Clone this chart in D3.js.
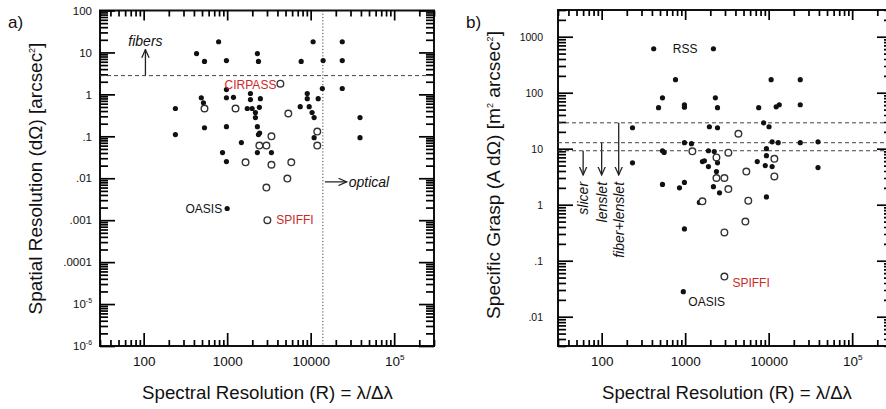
<!DOCTYPE html>
<html><head><meta charset="utf-8">
<script src="https://cdn.jsdelivr.net/npm/d3@7"></script>
<style>body{margin:0;background:#fff}svg{display:block;font-family:"Liberation Sans",Arial,sans-serif}</style>
</head><body>
<script>
// ---------- DATA ----------
const leftFilled = [[240,0.46],[240,0.11],[430,9.4],[535,6.1],[790,18],[980,6.4],[2300,9.4],[2370,6.1],[10700,18],[23900,18],[7700,6.1],[14100,6.4],[23900,6.4],[23900,1.38],[13800,1.38],[12300,0.79],[39000,0.28],[39000,0.093],[980,1.3],[980,0.83],[1190,0.85],[490,0.83],[520,0.63],[1740,0.46],[1900,1.05],[1900,0.75],[1990,0.46],[2180,0.37],[2180,0.28],[2500,0.79],[2430,0.49],[535,0.16],[980,0.17],[2300,0.17],[2370,0.11],[2450,0.12],[1480,0.071],[880,0.041],[980,0.025],[2300,0.041],[3390,0.041],[7500,0.51],[9100,1.05],[9100,0.79],[9600,0.51],[10400,0.37],[11000,0.28],[11000,0.093],[1000,0.0019]];
const leftOpen = [[535,0.46],[1260,0.46],[4340,1.8],[5400,0.35],[3390,0.10],[2430,0.06],[2950,0.06],[1660,0.024],[3390,0.021],[5860,0.024],[5260,0.0098],[2950,0.006],[12000,0.13],[12000,0.06],[3030,0.001]];
const rightFilled = [[420,610],[2180,610],[766,171],[535,81],[480,54],[980,61],[980,55],[2300,81],[2440,54],[10700,171],[23900,171],[7600,54],[12300,56],[13400,61],[23900,61],[234,23.7],[234,5.6],[535,9.2],[560,8.6],[535,2.3],[855,2.0],[980,2.5],[980,0.37],[1950,24.7],[2440,23.7],[980,12.8],[1190,12.3],[1900,9.2],[2230,8.9],[1610,5.9],[1900,4.8],[2440,5.6],[2180,2.1],[2580,1.63],[1480,1.1],[8700,29],[10100,24.7],[9400,10],[9400,7.5],[7300,5.9],[9100,5.0],[11000,4.8],[11000,13.3],[13000,12.8],[23900,12.8],[39000,13.3],[39000,4.6],[9400,1.38],[950,0.028],[2370,3.9],[1700,6.1]];
const rightOpen = [[1220,9.0],[4340,18.5],[3290,8.5],[2370,7.0],[11700,6.6],[11700,3.2],[5400,3.9],[2370,3.0],[2950,3.0],[3290,1.9],[5700,1.18],[1610,1.15],[2950,0.32],[5260,0.5],[2950,0.052]];

const xTickValues = [100,1000,10000,100000];
const xTickLabels = ["100","1000","10000","10^5"];
const leftYTickValues = [1e-6,1e-5,1e-4,1e-3,1e-2,1e-1,1,10,100];
const leftYTickLabels = ["10^-6","10^-5",".0001",".001",".01",".1","1","10","100"];
const rightYTickValues = [0.01,0.1,1,10,100,1000];
const rightYTickLabels = [".01",".1","1","10","100","1000"];

const leftLabels = [["OASIS",1000,0.0019],["SPIFFI",3030,0.001],["CIRPASS",4340,1.8]];
const rightLabels = [["RSS",2180,610],["SPIFFI",2950,0.052],["OASIS",950,0.028]];

const fibersLimit = 2.8;      // arcsec^2
const opticalLimit = 14000;   // R
const graspLimits = [29, 12.8, 9.2];   // fiber+lenslet, lenslet, slicer
const graspNames = ["fiber+lenslet","lenslet","slicer"];
const graspArrowR = [160, 100, 60];
const graspArrowEnd = 3.4;

// ---------- STYLE / LAYOUT ----------
const W = 886, H = 409;
const svg = d3.select("body").append("svg").attr("width", W).attr("height", H);
svg.append("rect").attr("width", W).attr("height", H).attr("fill", "#fff");
const defs = svg.append("defs");
defs.append("marker").attr("id","arr").attr("viewBox","0 0 10 10").attr("refX",9).attr("refY",5)
  .attr("markerWidth",7).attr("markerHeight",7).attr("orient","auto-start-reverse")
  .append("path").attr("d","M0,1 L9,5 L0,9").attr("fill","none").attr("stroke","#222").attr("stroke-width",1.4);

const RED = "#cc2a2a";
const labelStyle = {
  left: {OASIS:{dx:-5,dy:0,anchor:"end",color:"#111"}, SPIFFI:{dx:9,dy:0,anchor:"start",color:RED}, CIRPASS:{dx:-4,dy:1,anchor:"end",color:RED}},
  right:{RSS:{dx:-16,dy:0,anchor:"end",color:"#111"}, SPIFFI:{dx:8,dy:6,anchor:"start",color:RED}, OASIS:{dx:5,dy:10,anchor:"start",color:"#111"}}
};

function minorTicks(domain){
  const out=[]; const k0=Math.floor(Math.log10(domain[0])), k1=Math.ceil(Math.log10(domain[1]));
  for(let k=k0;k<=k1;k++) for(let m=2;m<=9;m++){const v=m*Math.pow(10,k); if(v>=domain[0]*0.999&&v<=domain[1]*1.001) out.push(v);}
  return out;
}
function setLabel(sel, lab, fs){
  sel.text(null);
  if(lab.includes("^")){
    const [b,e]=lab.split("^");
    sel.append("tspan").text(b);
    sel.append("tspan").attr("font-size",fs*0.6).attr("dy",-fs*0.45).text(e);
  } else sel.text(lab);
}
function fitText(t, target){
  const w = t.node().getComputedTextLength();
  const fs = parseFloat(t.attr("font-size"));
  t.attr("font-size", fs*target/w);
}

function panel(o){
  const x = d3.scaleLog().domain([30,3e5]).range([o.x0,o.x1]);
  const y = d3.scaleLog().domain(o.yDomain).range([o.y1,o.y0]);
  const g = svg.append("g");
  const clipId = "clip"+o.name;
  defs.append("clipPath").attr("id",clipId).append("rect").attr("x",o.x0).attr("y",o.y0).attr("width",o.x1-o.x0).attr("height",o.y1-o.y0);

  g.append("rect").attr("x",o.x0).attr("y",o.y0).attr("width",o.x1-o.x0).attr("height",o.y1-o.y0)
    .attr("fill","none").attr("stroke","#111").attr("stroke-width",2);

  const mk = (axis, trans, vals, size, fmt, pad) => {
    const a = axis.tickValues(vals).tickSize(-size).tickPadding(pad||6).tickFormat(fmt||(()=>""));
    const ag = g.append("g").attr("transform",trans).call(a);
    ag.select(".domain").remove();
    ag.selectAll(".tick line").attr("stroke","#000").attr("stroke-width",1.7);
    return ag;
  };
  const xMin = minorTicks(x.domain()), yMin = minorTicks(y.domain());
  const xMaj = xTickValues, yMaj = o.yTicks;
  // bottom
  const bx = mk(d3.axisBottom(x), `translate(0,${o.y1})`, xMaj, 13, (d,i)=>xTickLabels[i], 10);
  bx.selectAll(".tick text").attr("font-size",13.5).attr("fill","#111").attr("font-family","Liberation Sans, Arial")
    .each(function(d,i){ setLabel(d3.select(this), xTickLabels[i], 13.5); });
  mk(d3.axisBottom(x), `translate(0,${o.y1})`, xMin, 6);
  mk(d3.axisTop(x), `translate(0,${o.y0})`, xMaj, 10);
  mk(d3.axisTop(x), `translate(0,${o.y0})`, xMin, 6);
  // left
  const ly = mk(d3.axisLeft(y), `translate(${o.x0},0)`, yMaj, 15, (d,i)=>o.yLabels[i], o.yPad);
  ly.selectAll(".tick text").attr("font-size",o.yFs).attr("fill","#111").attr("font-family","Liberation Sans, Arial")
    .each(function(d,i){ setLabel(d3.select(this), o.yLabels[i], o.yFs); });
  mk(d3.axisLeft(y), `translate(${o.x0},0)`, yMin, 8);
  mk(d3.axisRight(y), `translate(${o.x1},0)`, yMaj, 15);
  mk(d3.axisRight(y), `translate(${o.x1},0)`, yMin, 8);

  const plot = g.append("g").attr("clip-path",`url(#${clipId})`);
  o.annot(plot, x, y);

  plot.selectAll("circle.f").data(o.filled).join("circle").attr("class","f")
    .attr("cx",d=>x(d[0])).attr("cy",d=>y(d[1])).attr("r",2.6).attr("fill","#111");
  plot.selectAll("circle.o").data(o.open).join("circle").attr("class","o")
    .attr("cx",d=>x(d[0])).attr("cy",d=>y(d[1])).attr("r",3.3).attr("fill","#fff").attr("stroke","#333").attr("stroke-width",1.4);

  g.selectAll("text.lab").data(o.labels).join("text").attr("class","lab")
    .attr("x",d=>x(d[1])+o.lstyle[d[0]].dx).attr("y",d=>y(d[2])+o.lstyle[d[0]].dy).attr("dy","0.35em")
    .attr("text-anchor",d=>o.lstyle[d[0]].anchor).attr("fill",d=>o.lstyle[d[0]].color)
    .attr("font-size",12).text(d=>d[0]);

  // titles
  const xt = svg.append("text").attr("x",(o.xtA+o.xtB)/2).attr("y",o.xtY).attr("text-anchor","middle")
    .attr("font-size",16).attr("fill","#111").text("Spectral Resolution (R) = λ/Δλ");
  fitText(xt, o.xtB-o.xtA);
  const yt = svg.append("text").attr("transform",`translate(${o.ytX},${(o.ytA+o.ytB)/2}) rotate(-90)`)
    .attr("text-anchor","middle").attr("font-size",16).attr("fill","#111");
  o.ytParts.forEach(p=>{
    if(p.sup){ yt.append("tspan").attr("font-size",9).attr("dy",-7).text(p.t); }
    else { yt.append("tspan").attr("dy", p.after? 7:0).text(p.t); }
  });
  fitText(yt, o.ytB-o.ytA);
  svg.append("text").attr("x",o.pl[0]).attr("y",o.pl[1]).attr("font-size",17).attr("fill","#111").text(o.plabel);
}

panel({
  name:"a", x0:100, x1:434, y0:10.5, y1:346, yDomain:[1e-6,100],
  yTicks:leftYTickValues, yLabels:leftYTickLabels, yFs:11.5, yPad:8,
  filled:leftFilled, open:leftOpen, labels:leftLabels, lstyle:labelStyle.left,
  xtA:142, xtB:393, xtY:399, ytX:42, ytA:42, ytB:315,
  ytParts:[{t:"Spatial Resolution (dΩ) [arcsec"},{t:"2",sup:true},{t:"]",after:true}],
  pl:[8,28], plabel:"a)",
  annot:(p,x,y)=>{
    p.append("line").attr("x1",x.range()[0]).attr("x2",x.range()[1]).attr("y1",y(fibersLimit)).attr("y2",y(fibersLimit))
      .attr("stroke","#444").attr("stroke-width",1).attr("stroke-dasharray","4,3");
    p.append("line").attr("x1",x(opticalLimit)).attr("x2",x(opticalLimit)).attr("y1",y.range()[1]).attr("y2",y.range()[0])
      .attr("stroke","#444").attr("stroke-width",1).attr("stroke-dasharray","1.2,2");
    p.append("line").attr("x1",x(105)).attr("x2",x(105)).attr("y1",y(fibersLimit)).attr("y2",y(11.7))
      .attr("stroke","#222").attr("stroke-width",1.3).attr("marker-end","url(#arr)");
    p.append("text").attr("x",x(105)).attr("y",y(11.7)-4).attr("text-anchor","middle").attr("font-style","italic")
      .attr("font-size",14).attr("fill","#111").text("fibers");
    p.append("line").attr("x1",x(opticalLimit)+2).attr("x2",x(27000)).attr("y1",y(0.0082)).attr("y2",y(0.0082))
      .attr("stroke","#222").attr("stroke-width",1.3).attr("marker-end","url(#arr)");
    p.append("text").attr("x",x(27000)+2).attr("y",y(0.0082)).attr("dy","0.35em").attr("font-style","italic")
      .attr("font-size",14).attr("fill","#111").text("optical");
  }
});

panel({
  name:"b", x0:558, x1:892, y0:10, y1:346, yDomain:[0.003,3000],
  yTicks:rightYTickValues, yLabels:rightYTickLabels, yFs:10.5, yPad:15,
  filled:rightFilled, open:rightOpen, labels:rightLabels, lstyle:labelStyle.right,
  xtA:602, xtB:852, xtY:399, ytX:500, ytA:30, ytB:320,
  ytParts:[{t:"Specific Grasp (A dΩ) [m"},{t:"2",sup:true},{t:" arcsec",after:true},{t:"2",sup:true},{t:"]",after:true}],
  pl:[466,28], plabel:"b)",
  annot:(p,x,y)=>{
    graspLimits.forEach((v,i)=>{
      p.append("line").attr("x1",x.range()[0]).attr("x2",x.range()[1]).attr("y1",y(v)).attr("y2",y(v))
        .attr("stroke","#444").attr("stroke-width",1).attr("stroke-dasharray","4,3");
      p.append("line").attr("x1",x(graspArrowR[i])).attr("x2",x(graspArrowR[i])).attr("y1",y(v)).attr("y2",y(graspArrowEnd))
        .attr("stroke","#222").attr("stroke-width",1.3).attr("marker-end","url(#arr)");
      p.append("text").attr("transform",`translate(${x(graspArrowR[i])},${y(graspArrowEnd)+7}) rotate(-90)`)
        .attr("text-anchor","end").attr("dy","0.35em").attr("font-style","italic").attr("font-size",14)
        .attr("fill","#111").text(graspNames[i]);
    });
  }
});
</script>
</body></html>
